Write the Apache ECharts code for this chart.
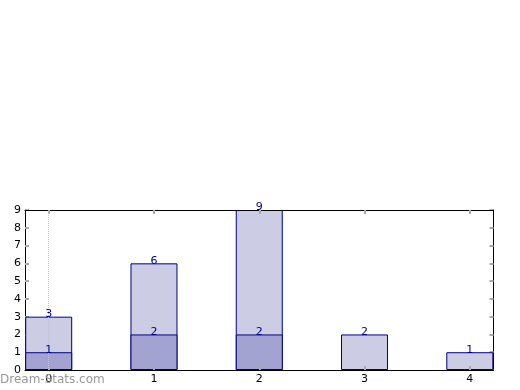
<!DOCTYPE html>
<html><head><meta charset="utf-8">
<script src="https://cdn.jsdelivr.net/npm/echarts@6/dist/echarts.min.js"></script>
<style>html,body{margin:0;padding:0;background:#fff}#c{width:520px;height:390px}</style>
</head><body><div id="c"></div>
<script>
const positions = [0, 1, 2, 3, 4];
const totalValues = [3, 6, 9, 2, 1];
const subValues = [1, 2, 2, 0, 0];
const xTickLabels = [0, 1, 2, 3, 4];
const yTickLabels = [0, 1, 2, 3, 4, 5, 6, 7, 8, 9];

const font = 'DejaVu Sans';
const tickColor = '#aaaaaa';
const chart = echarts.init(document.getElementById('c'), null, {renderer: 'canvas'});

const totalData = positions.map((p, i) => [p, totalValues[i]]);
const subData = positions.map((p, i) => [p, subValues[i]]).filter(d => d[1] > 0);

const labelSeries = data => ({
  type: 'scatter', symbolSize: 0, z: 30, silent: true, data: data,
  itemStyle: {opacity: 1},
  label: {show: true, position: 'top', distance: -3, color: '#000099',
    fontFamily: font, fontSize: 11, formatter: p => String(p.value[1])}
});

chart.setOption({
  animation: false,
  grid: {left: 25, right: 26.5, top: 210, bottom: 20, containLabel: false},
  xAxis: [
    {type: 'value', min: -0.225, max: 4.225, position: 'bottom',
     axisLine: {show: true, onZero: false, lineStyle: {color: '#000', width: 1}},
     axisTick: {show: true, inside: true, length: 4, customValues: xTickLabels, lineStyle: {color: tickColor, width: 2}},
     axisLabel: {show: true, customValues: xTickLabels, color: '#000', fontFamily: font, fontSize: 11, margin: 4},
     splitLine: {show: false}, z: 10},
    {type: 'value', min: -0.225, max: 4.225, position: 'top',
     axisLine: {show: true, onZero: false, lineStyle: {color: '#000', width: 1}},
     axisTick: {show: true, inside: true, length: 4, customValues: xTickLabels, lineStyle: {color: tickColor, width: 2}},
     axisLabel: {show: false}, splitLine: {show: false}, z: 10}
  ],
  yAxis: [
    {type: 'value', min: 0, max: 9, interval: 1, position: 'left',
     axisLine: {show: true, onZero: false, lineStyle: {color: '#000', width: 1}},
     axisTick: {show: true, inside: true, length: 4, lineStyle: {color: tickColor, width: 2}},
     axisLabel: {show: true, color: '#000', fontFamily: font, fontSize: 11, margin: 4,
       formatter: v => yTickLabels.includes(v) ? String(v) : ''},
     splitLine: {show: false}},
    {type: 'value', min: 0, max: 9, interval: 1, position: 'right',
     axisLine: {show: true, onZero: false, lineStyle: {color: '#000', width: 1}},
     axisTick: {show: true, inside: true, length: 4, lineStyle: {color: tickColor, width: 2}},
     axisLabel: {show: false}, splitLine: {show: false}}
  ],
  series: [
    {type: 'bar', name: 'total', barWidth: 47, barGap: '-100%', data: totalData,
     itemStyle: {color: '#cccce4', borderColor: '#000088', borderWidth: 1}},
    {type: 'bar', name: 'sub', barWidth: 47, barGap: '-100%', data: subData,
     itemStyle: {color: '#a2a3d0', borderColor: '#000088', borderWidth: 1},
     markLine: {silent: true, symbol: 'none', label: {show: false}, z: 20,
       lineStyle: {type: 'dotted', color: '#c4c4c4', width: 1},
       data: [{xAxis: 0}]}},
    labelSeries(totalData),
    labelSeries(subData)
  ],
  graphic: [
    {type: 'text', left: 0, top: 374, z: 100,
     style: {text: 'Dream-Stats.com', fill: '#999999', font: '12px "DejaVu Sans"'}}
  ]
});
</script></body></html>
